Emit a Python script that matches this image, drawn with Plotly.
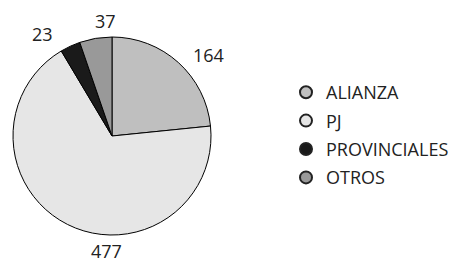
import plotly.graph_objects as go

labels = ["ALIANZA", "PJ", "PROVINCIALES", "OTROS"]
values = [164, 477, 23, 37]
colors = ["#bfbfbf", "#e6e6e6", "#1a1a1a", "#999999"]

FONT = "Open Sans"
W, H = 465, 263

fig = go.Figure()
fig.add_trace(go.Pie(
    labels=labels, values=values, sort=False, direction="clockwise", rotation=0,
    marker=dict(colors=colors, line=dict(color="#000000", width=1)),
    textinfo="none",
    domain=dict(x=[13/W, 211/W], y=[28/H, 226/H]),
    showlegend=False, hoverinfo="label+value",
))
for lab, col in zip(labels, colors):
    fig.add_trace(go.Scatter(
        x=[None], y=[None], mode="markers", name=lab, legendgroup=lab,
        marker=dict(symbol="circle", size=13, color=col, line=dict(color="#222222", width=1.2)),
    ))

# value labels placed around the pie (pixel positions from top-left)
label_px = {"ALIANZA": (208, 55), "PJ": (106, 251), "PROVINCIALES": (42, 34), "OTROS": (105, 21)}
for lab, val in zip(labels, values):
    px, py = label_px[lab]
    fig.add_annotation(x=px/W, y=1-py/H, xref="paper", yref="paper",
                       text=str(val), showarrow=False, xanchor="center", yanchor="middle",
                       font=dict(family=FONT, size=18, color="#222222"))

fig.update_layout(
    width=W, height=H,
    margin=dict(l=0, r=0, t=0, b=0),
    paper_bgcolor="white", plot_bgcolor="white",
    xaxis=dict(visible=False), yaxis=dict(visible=False),
    legend=dict(x=286/W, y=1-74/H, xanchor="left", yanchor="top",
                font=dict(family=FONT, size=18, color="#222222"),
                itemsizing="constant", tracegroupgap=2, bgcolor="rgba(0,0,0,0)"),
)
fig.write_html("out.html", config={"displayModeBar": False},
               post_script="document.body.style.margin='0';")
